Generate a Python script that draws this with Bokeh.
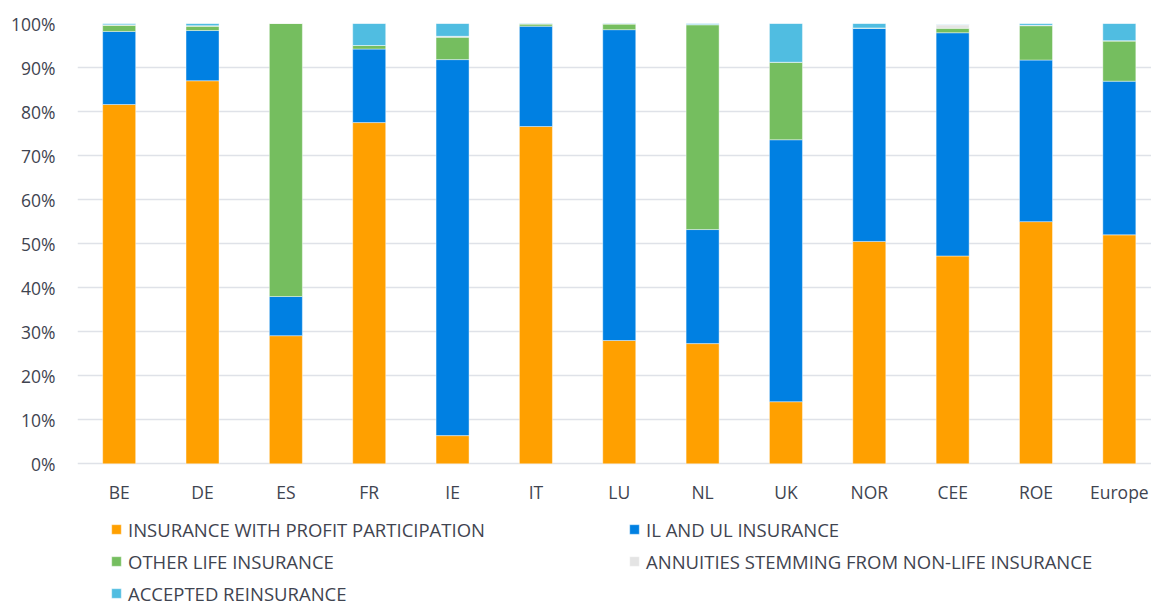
from bokeh.plotting import figure
from bokeh.models import (Legend, LegendItem, FixedTicker, PrintfTickFormatter,
                          Range1d, ColumnDataSource)
from bokeh.core.properties import value
from bokeh.embed import file_html
from bokeh.resources import INLINE

categories = ["BE", "DE", "ES", "FR", "IE", "IT", "LU", "NL", "UK", "NOR", "CEE", "ROE", "Europe"]
profit = [81.6, 87.0, 29.1, 77.5, 6.4, 76.6, 28.0, 27.3, 14.1, 50.5, 47.2, 55.0, 52.0]
il_ul = [16.6, 11.4, 8.9, 16.7, 85.4, 22.8, 70.6, 25.9, 59.5, 48.4, 50.7, 36.7, 34.9]
other_life = [1.4, 1.0, 62.0, 0.8, 5.1, 0.5, 1.3, 46.5, 17.6, 0.1, 1.0, 7.8, 9.1]
annuities = [0.1, 0.1, 0.0, 0.0, 0.2, 0.0, 0.0, 0.1, 0.0, 0.0, 0.8, 0.1, 0.1]
reinsurance = [0.3, 0.5, 0.0, 5.0, 2.9, 0.1, 0.1, 0.2, 8.8, 1.0, 0.1, 0.4, 3.9]
y_ticks = list(range(0, 101, 10))

series_names = ["INSURANCE WITH PROFIT PARTICIPATION", "IL AND UL INSURANCE",
                "OTHER LIFE INSURANCE", "ANNUITIES STEMMING FROM NON-LIFE INSURANCE",
                "ACCEPTED REINSURANCE"]
keys = ["profit", "il_ul", "other", "annuities", "reins"]
colors = ["#FFA000", "#0080E2", "#75BE5F", "#E4E4E4", "#50BDE1"]

TEXT = "#3F4450"
FONT = "Open Sans"

source = ColumnDataSource(dict(
    x=list(range(len(categories))), cat=categories, base=[0] * len(categories),
    profit=profit, il_ul=il_ul, other=other_life, annuities=annuities, reins=reinsurance,
))

# frame spans the whole lower area so the legend (inside the frame) is not clipped;
# grid lines and y labels are only drawn at 0..100 %
p = figure(width=1151, height=606, output_backend="svg", toolbar_location=None,
           x_range=Range1d(-0.5, 12.386), y_range=Range1d(-32.41, 100))
p.min_border_left = 77
p.min_border_right = 0
p.min_border_top = 23
p.min_border_bottom = 0
p.outline_line_color = None
p.background_fill_color = "white"
p.border_fill_color = "white"

renderers = p.vbar_stack(keys, x="x", width=0.396, source=source, color=colors,
                         line_color="white", line_width=0.6, line_alpha=0.7)

# y axis
p.yaxis.ticker = FixedTicker(ticks=y_ticks)
p.yaxis.formatter = PrintfTickFormatter(format="%d%%")
p.yaxis.axis_line_color = None
p.yaxis.major_tick_line_color = None
p.yaxis.minor_tick_line_color = None
p.yaxis.major_tick_out = 0
p.yaxis.major_tick_in = 0
p.yaxis.major_label_text_font = FONT
p.yaxis.major_label_text_font_size = "17.5px"
p.yaxis.major_label_text_color = TEXT
p.yaxis.major_label_standoff = 22

p.xaxis.visible = False
p.xgrid.grid_line_color = None
p.ygrid.grid_line_color = "#DFE2E8"
p.ygrid.grid_line_width = 1.5

# category labels under the bars
p.text(x="x", y="base", text="cat", source=source, y_offset=28,
       text_align="center", text_baseline="middle",
       text_font=value(FONT), text_font_size="17.5px", text_color=TEXT)

order = [0, 2, 4, 1, 3]
items = [LegendItem(label=series_names[i], renderers=[renderers[i]]) for i in order]
legend = Legend(items=items, location=(33, 0), orientation="vertical", nrows=3,
                border_line_color=None, background_fill_alpha=0,
                padding=0, margin=0, spacing=6,
                glyph_width=12, glyph_height=12, label_height=26, label_width=494,
                label_standoff=6,
                label_text_font=FONT, label_text_font_size="18.5px",
                label_text_color=TEXT)
p.add_layout(legend, "center")

open("out.html", "w").write(file_html(p, INLINE))
